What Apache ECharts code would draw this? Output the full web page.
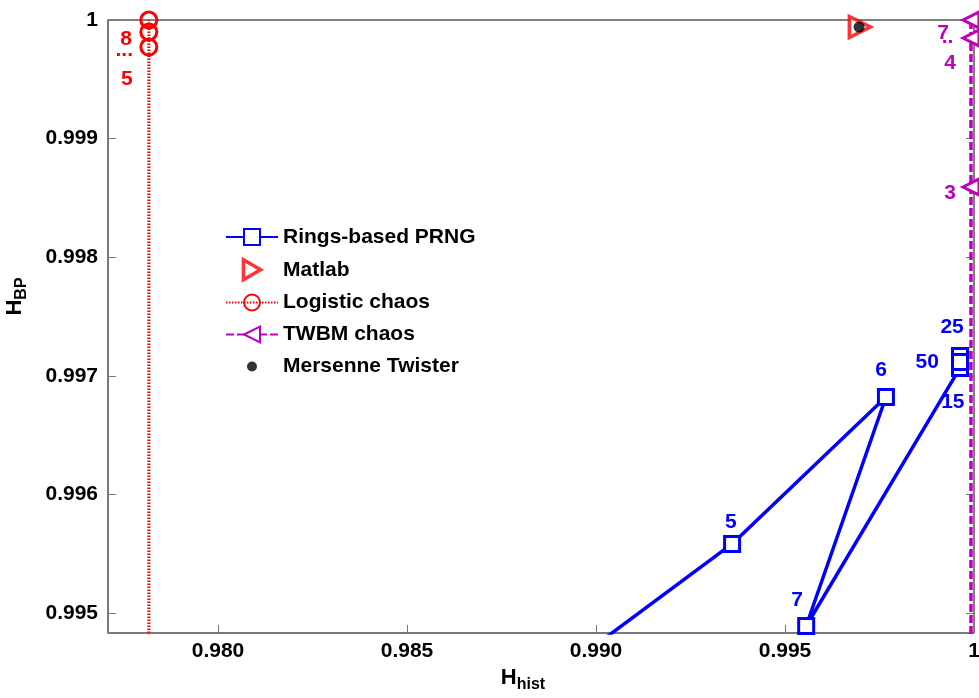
<!DOCTYPE html>
<html>
<head>
<meta charset="utf-8">
<script src="https://cdn.jsdelivr.net/npm/echarts@6/dist/echarts.min.js"></script>
<style>html,body{margin:0;padding:0;background:#fff;}#c{width:979px;height:698px;}</style>
</head>
<body>
<div id="c"></div>
<script>
// ---- data ----
const xTicks = [0.980, 0.985, 0.990, 0.995, 1.000];
const yTicks = [0.995, 0.996, 0.997, 0.998, 0.999, 1.000];

const ringsX = [0.98566, 0.99360, 0.99767, 0.99556, 0.99963, 0.99963, 0.99963];
const ringsY = [0.993706, 0.995582, 0.996821, 0.994890, 0.997066, 0.997167, 0.997116];

const matlabX = [0.99698];
const matlabY = [0.999941];

const logisticX = [0.97817, 0.97817, 0.97817, 0.97817];
const logisticY = [0.990000, 0.999772, 0.999899, 1.000000];

const twbmX = [0.99992, 0.99992, 0.99992, 0.99992];
const twbmY = [0.990000, 0.998592, 0.999848, 1.000000];

const mtX = [0.99696];
const mtY = [0.999941];

// annotation labels: [x, y, text]
const ringsLabels = [[0.99357, 0.995767, '5'], [0.99532, 0.995110, '7'], [0.99754, 0.997049, '6'],
                     [0.99942, 0.997411, '25'], [0.99876, 0.997116, '50'], [0.99944, 0.996779, '15']];
const logisticLabels = [[0.97757, 0.99984, '8'], [0.97752, 0.999747, '...'], [0.97759, 0.999503, '5']];
const twbmLabels = [[0.99918, 0.99989, '7'], [0.99930, 0.999857, '..'], [0.99937, 0.999637, '4'], [0.99937, 0.998541, '3']];

const xMin = 0.97709, xMax = 1.0, yMin = 0.994831, yMax = 1.0;

const BLUE = '#0000FF', RED = '#FF0000', MAG = '#BF00BF';
const FONT = 'Liberation Sans, Arial, sans-serif';

const zip = (xs, ys) => xs.map((x, i) => [x, ys[i]]);
const fmt = v => (Math.abs(v - 1) < 1e-9 ? '1' : v.toFixed(3));

function labelSeries(arr, color) {
  return {
    type: 'scatter', silent: true, symbolSize: 0, z: 10,
    itemStyle: { color: color },
    data: arr.map(a => ({ value: [a[0], a[1]], name: a[2] })),
    label: { show: true, position: 'inside', formatter: p => p.name, color: color, opacity: 1,
             textBorderWidth: 0, textShadowBlur: 0,
             fontSize: 21, fontWeight: 'bold', fontFamily: FONT }
  };
}

const chart = echarts.init(document.getElementById('c'), null, { renderer: 'canvas' });
chart.setOption({
  backgroundColor: '#fff',
  animation: false,
  grid: { left: 108, right: 5, top: 20, bottom: 65, outerBoundsMode: 'none', containLabel: false,
          show: true, borderColor: '#000', borderWidth: 1, backgroundColor: 'transparent' },
  xAxis: {
    type: 'value', min: xMin, max: xMax,
    name: '{a|H}{b|hist}', nameLocation: 'middle', nameGap: 30,
    nameTextStyle: { padding: [0, 36, 0, 0],
                     rich: { a: { fontSize: 22, fontWeight: 'bold', fontFamily: FONT, color: '#000' },
                              b: { fontSize: 16, fontWeight: 'bold', fontFamily: FONT, color: '#000', padding: [14, 0, 0, 0] } } },
    axisLine: { lineStyle: { color: '#777', width: 1.5 } },
    axisTick: { inside: true, length: 8, customValues: xTicks, lineStyle: { color: '#777' } },
    axisLabel: { customValues: xTicks, formatter: fmt, fontSize: 21, fontWeight: 'bold', fontFamily: FONT, color: '#000', margin: 8 },
    splitLine: { show: false }
  },
  yAxis: [{
    type: 'value', min: yMin, max: yMax,
    name: '{a|H}{b|BP}', nameLocation: 'middle', nameGap: 78, nameRotate: 90,
    nameTextStyle: { padding: [0, 0, 0, 60],
                     rich: { a: { fontSize: 22, fontWeight: 'bold', fontFamily: FONT, color: '#000' },
                              b: { fontSize: 16, fontWeight: 'bold', fontFamily: FONT, color: '#000', padding: [14, 0, 0, 0] } } },
    axisLine: { lineStyle: { color: '#777', width: 1.5 } },
    axisTick: { inside: true, length: 8, customValues: yTicks, lineStyle: { color: '#777' } },
    axisLabel: { customValues: yTicks, formatter: fmt, fontSize: 21, fontWeight: 'bold', fontFamily: FONT, color: '#000', margin: 10 },
    splitLine: { show: false }
  }, {
    type: 'value', min: yMin, max: yMax, position: 'right',
    axisLine: { show: false },
    axisTick: { inside: true, length: 8, customValues: yTicks, lineStyle: { color: '#777' } },
    axisLabel: { show: false },
    splitLine: { show: false }
  }],
  legend: {
    orient: 'vertical', left: 225, top: 226, padding: 0, itemWidth: 52, itemHeight: 20, itemGap: 10,
    textStyle: { fontSize: 21, fontWeight: 'bold', fontFamily: FONT, color: '#000', lineHeight: 22 },
    data: [
      'Rings-based PRNG',
      { name: 'Matlab', icon: 'path://M0,0 L12,7 L0,14 Z', itemStyle: { color: '#fff', borderColor: RED, borderWidth: 3.5 } },
      'Logistic chaos', 'TWBM chaos',
      { name: 'Mersenne Twister', icon: 'path://M0,0M20,20M5,10A5,5,0,1,1,15,10A5,5,0,1,1,5,10Z', itemStyle: { color: '#000' } }
    ]
  },
  series: [
    { name: 'Rings-based PRNG', type: 'line', data: zip(ringsX, ringsY), symbol: 'rect', symbolSize: 15,
      lineStyle: { color: BLUE, width: 3.5 }, itemStyle: { color: '#fff', borderColor: BLUE, borderWidth: 3 }, z: 3 },
    { name: 'Matlab', type: 'scatter', data: zip(matlabX, matlabY), symbol: 'triangle', symbolRotate: -90, symbolSize: 21,
      itemStyle: { color: '#fff', borderColor: RED, borderWidth: 3.5 }, z: 4 },
    { name: 'Logistic chaos', type: 'line', data: zip(logisticX, logisticY), symbol: 'circle', symbolSize: 16,
      lineStyle: { color: RED, width: 3, type: [1.5, 1.5] }, itemStyle: { color: 'rgba(255,255,255,0)', borderColor: RED, borderWidth: 3 }, z: 3 },
    { name: 'TWBM chaos', type: 'line', data: zip(twbmX, twbmY), symbol: 'triangle', symbolRotate: 90, symbolSize: 16,
      lineStyle: { color: MAG, width: 3.5, type: [8, 3] }, itemStyle: { color: '#fff', borderColor: MAG, borderWidth: 3 }, z: 3 },
    { name: 'Mersenne Twister', type: 'scatter', data: zip(mtX, mtY), symbol: 'circle', symbolSize: 11,
      itemStyle: { color: '#000' }, z: 5 },
    labelSeries(ringsLabels, BLUE),
    labelSeries(logisticLabels, RED),
    labelSeries(twbmLabels, MAG)
  ]
});
</script>
</body>
</html>
